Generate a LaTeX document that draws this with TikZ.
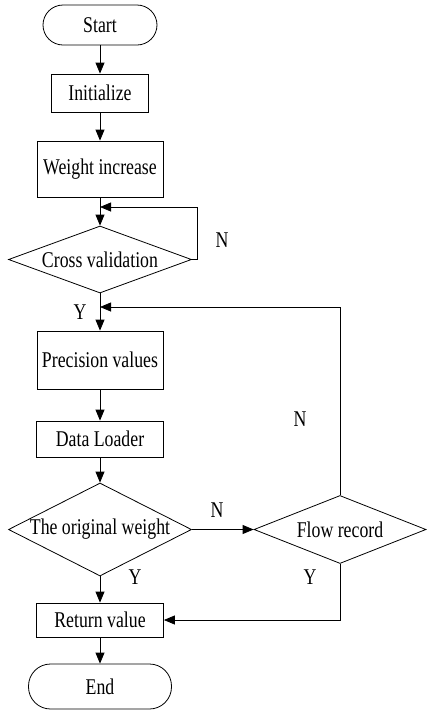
\documentclass[tikz,border=0pt]{standalone}
\usepackage{fontspec}
\setmainfont{Liberation Serif}[FakeStretch=0.79]
\usetikzlibrary{shapes.geometric,arrows.meta}
\begin{document}
\begin{tikzpicture}[x=1pt,y=1pt,
  every node/.style={font=\fontsize{22.5}{24}\selectfont},
  box/.style={draw,line width=0.8pt,rectangle,inner sep=0pt},
  term/.style={draw,line width=0.8pt,rectangle,rounded corners=20pt,inner sep=0pt},
  dec/.style={draw,line width=0.8pt,diamond,inner sep=0pt},
  lbl/.style={inner sep=0pt},
  arr/.style={line width=0.8pt,-{Triangle[length=11pt,width=9pt]}},
  ln/.style={line width=0.8pt}]
\useasboundingbox (0,0) rectangle (426,-710);
\node[term,minimum width=114pt,minimum height=40pt] (start) at (100,-25) {Start};
\node[box,minimum width=97pt,minimum height=38pt] (init) at (100,-93) {Initialize};
\node[box,minimum width=126pt,minimum height=56pt] (wi) at (100,-169) {Weight increase};
\node[dec,aspect=2.73,minimum width=183pt,minimum height=67pt] (cv) at (100,-259.5) {Cross validation};
\node[box,minimum width=126pt,minimum height=58pt] (pv) at (100,-360) {Precision values};
\node[box,minimum width=127pt,minimum height=36pt] (dl) at (100,-439) {Data Loader};
\node[dec,aspect=1.97,minimum width=183pt,minimum height=93pt] (ow) at (100,-529.5) {The original weight};
\node[dec,aspect=2.53,minimum width=172pt,minimum height=68pt] (fr) at (340,-529.5) {Flow record};
\node[box,minimum width=127pt,minimum height=34pt] (rv) at (100,-620) {Return value};
\node[term,rounded corners=22pt,minimum width=143pt,minimum height=45pt] (end) at (100,-686.5) {End};
\coordinate (l1) at (197,-207);
\coordinate (l2) at (100,-207);
\coordinate (j2) at (100,-307);
\draw[arr] (start) -- (init);
\draw[arr] (init) -- (wi);
\draw[arr] (wi) -- (cv);
\draw[arr] (cv.east) -| (l1) -- (l2);
\draw[arr] (cv) -- (pv);
\draw[arr] (pv) -- (dl);
\draw[arr] (dl) -- (ow);
\draw[arr] (ow.east) -- (fr.west);
\draw[arr] (fr.north) |- (j2);
\draw[arr] (ow) -- (rv);
\draw[arr] (fr.south) |- (rv.east);
\draw[arr] (rv) -- (end);
\node[lbl] (n1) at (222,-240) {N};
\node[lbl] (y1) at (80,-312) {Y};
\node[lbl] (n2) at (300,-419) {N};
\node[lbl] (n3) at (217,-510) {N};
\node[lbl] (y2) at (135,-577) {Y};
\node[lbl] (y3) at (310,-577) {Y};
\end{tikzpicture}
\end{document}
